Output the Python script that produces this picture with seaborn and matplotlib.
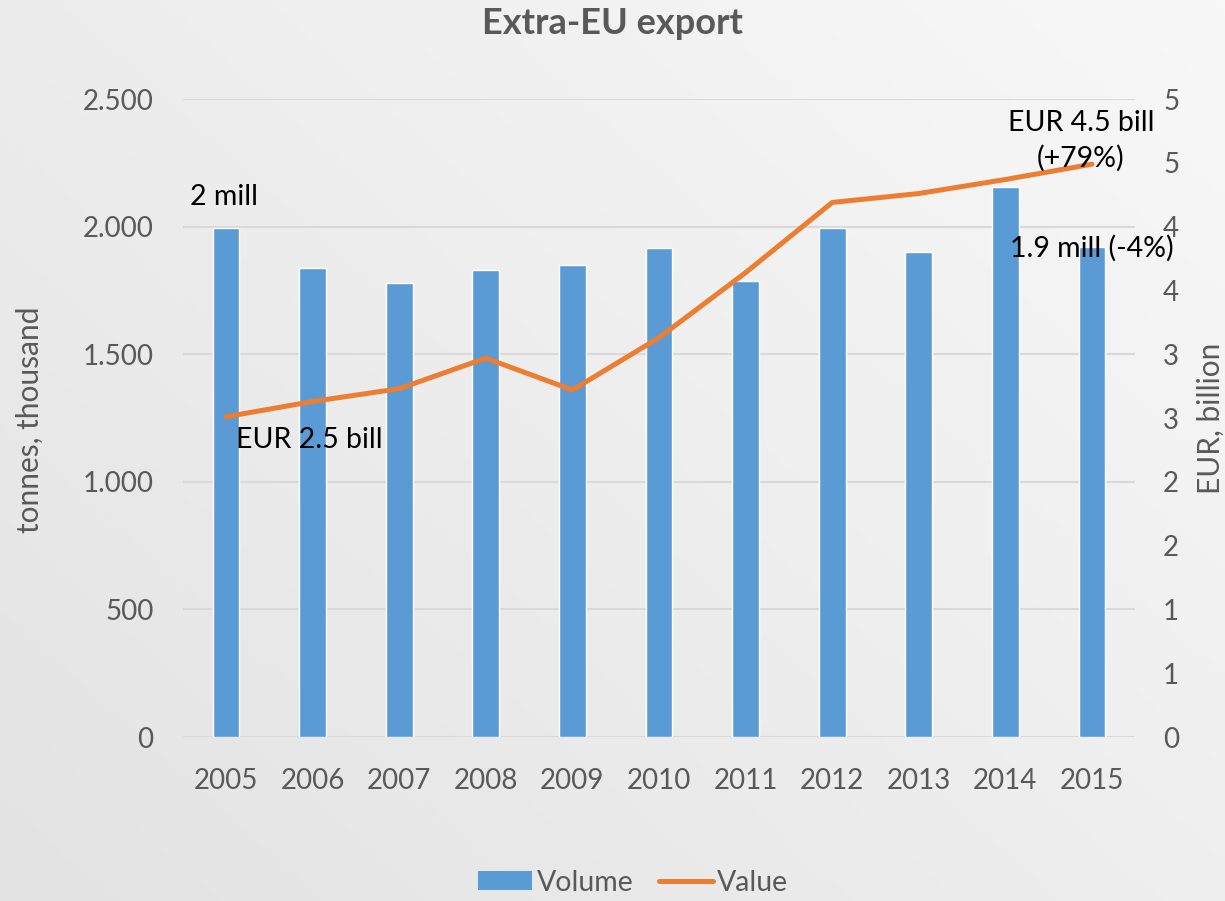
import numpy as np
import pandas as pd
import matplotlib
matplotlib.use("Agg")
import matplotlib.pyplot as plt
from matplotlib.patches import Patch
from matplotlib.lines import Line2D
import seaborn as sns

# Extra-EU export series
years = ["2005", "2006", "2007", "2008", "2009", "2010",
         "2011", "2012", "2013", "2014", "2015"]
volume_kt = [1995, 1838, 1780, 1830, 1850, 1916, 1787, 1995, 1900, 2155, 1922]
value_bn = [2.51, 2.63, 2.73, 2.97, 2.72, 3.13, 3.64, 4.19, 4.26, 4.37, 4.49]

left_ticks = [0, 500, 1000, 1500, 2000, 2500]
left_tick_labels = ["0", "500", "1.000", "1.500", "2.000", "2.500"]
right_ticks = [0, 0.5, 1, 1.5, 2, 2.5, 3, 3.5, 4, 4.5, 5]
right_tick_labels = ["0", "1", "1", "2", "2", "3", "3", "4", "4", "5", "5"]

BLUE = "#5B9BD5"
ORANGE = "#ED7D31"
GREY_TXT = "#595959"
GRID = "#D9D9D9"

sns.set_theme(style="white")
plt.rcParams["font.family"] = ["Lato", "DejaVu Sans"]

df = pd.DataFrame({"year": years, "volume": volume_kt, "value": value_bn})

fig = plt.figure(figsize=(12.25, 9.01), dpi=100)

# soft diagonal grey gradient behind the chart
bg = fig.add_axes([0, 0, 1, 1], zorder=-10)
gx, gy = np.meshgrid(np.linspace(0, 1, 256), np.linspace(0, 1, 256))
grad = 0.55 * gx + 0.45 * (1 - gy)
bg.imshow(grad, cmap=matplotlib.colors.LinearSegmentedColormap.from_list(
    "bg", ["#E3E3E3", "#F8F8F8"]), aspect="auto", extent=[0, 1, 0, 1], origin="upper")
bg.axis("off")

ax = fig.add_axes([0.1491, 0.182, 0.7777, 0.708])
ax.patch.set_alpha(0)

sns.barplot(data=df, x="year", y="volume", color=BLUE, saturation=1,
            width=0.31, ax=ax, zorder=2)
ax.set_xlim(-0.5, len(years) - 0.5)
ax.set_ylim(0, 2500)
ax.set_yticks(left_ticks)
ax.set_yticklabels(left_tick_labels)
ax.set_axisbelow(True)
ax.yaxis.grid(True, color=GRID, linewidth=1.5)
ax.xaxis.grid(False)
for s in ax.spines.values():
    s.set_visible(False)
ax.tick_params(axis="both", length=0, labelsize=20, labelcolor=GREY_TXT)
ax.tick_params(axis="y", pad=21)
ax.tick_params(axis="x", pad=22)
ax.set_xlabel("")
ax.set_ylabel("")

ax2 = ax.twinx()
ax2.patch.set_alpha(0)
sns.lineplot(x=np.arange(len(years)), y=df["value"], color=ORANGE,
             linewidth=3.6, ax=ax2, solid_capstyle="round")
ax2.set_ylim(0, 5)
ax2.set_yticks(right_ticks)
ax2.set_yticklabels(right_tick_labels)
for s in ax2.spines.values():
    s.set_visible(False)
ax2.tick_params(axis="y", length=0, labelsize=20, labelcolor=GREY_TXT, pad=20)
ax2.set_ylabel("")

# axis titles
fig.text(30 / 1225, 1 - 420 / 901, "tonnes, thousand", rotation=90, fontsize=21.5,
         color=GREY_TXT, ha="center", va="center")
fig.text(1211 / 1225, 1 - 418 / 901, "EUR, billion", rotation=90, fontsize=21.5,
         color=GREY_TXT, ha="center", va="center")

# annotations (placed in volume-axis coordinates)
lab_kw = dict(fontsize=20.5, color="black", transform=ax.transData, zorder=10)
ax2.text(-0.42, 2116, "2 mill", ha="left", va="center", **lab_kw)
ax2.text(0.115, 1164, "EUR 2.5 bill", ha="left", va="center", **lab_kw)
ax2.text(9.87, 2337, "EUR 4.5 bill\n(+79%)", ha="center", va="center",
         multialignment="center", linespacing=1.4, **lab_kw)
ax2.text(10.0, 1916, "1.9 mill (-4%)", ha="center", va="center", **lab_kw)

fig.text(0.5, 1 - 23 / 901, "Extra-EU export", ha="center", va="center",
         fontsize=26, fontweight="bold", color=GREY_TXT)

handles = [Patch(facecolor=BLUE, edgecolor="none"),
           Line2D([0], [0], color=ORANGE, linewidth=3.6, solid_capstyle="round")]
fig.legend(handles, ["Volume", "Value"], loc="center", bbox_to_anchor=(0.517, 0.02),
           ncol=2, frameon=False, fontsize=20.5, labelcolor=GREY_TXT,
           handlelength=1.9, handleheight=0.65, handletextpad=0.15, columnspacing=0.9)

fig.savefig("out.png", dpi=100)
